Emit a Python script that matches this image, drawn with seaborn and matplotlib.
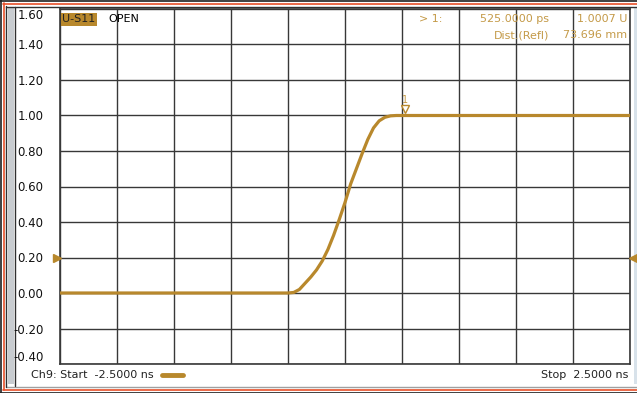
import numpy as np
import pandas as pd
import seaborn as sns
from matplotlib import pyplot as plt
from matplotlib.patches import Rectangle
from matplotlib.lines import Line2D
import matplotlib.transforms as mtransforms

# trace (time in ns, U)
time_ns = [-2.5, -0.5, -0.45, -0.4, -0.35, -0.3, -0.25, -0.2, -0.15, -0.1,
           -0.05, 0.0, 0.05, 0.1, 0.15, 0.2, 0.25, 0.3, 0.35, 0.4, 0.45, 2.5]
s11_u = [0.0, 0.0, 0.003, 0.02, 0.055, 0.09, 0.13, 0.18, 0.245, 0.325,
         0.415, 0.51, 0.615, 0.70, 0.785, 0.865, 0.93, 0.97, 0.99, 0.998, 1.0, 1.0]

y_ticks = [-0.4, -0.2, 0.0, 0.2, 0.4, 0.6, 0.8, 1.0, 1.2, 1.4, 1.6]
x_ticks = [-2.5, -2.0, -1.5, -1.0, -0.5, 0.0, 0.5, 1.0, 1.5, 2.0, 2.5]
ref_level = 0.2
marker_t = 0.525
marker_val = 1.0007

trace_col = '#B8882C'
text_col = '#C49A48'
grid_col = '#383838'

sns.set_style('white')
plt.rcParams['font.family'] = ['DejaVu Sans']

W, H = 637, 393
fig = plt.figure(figsize=(6.37, 3.93), dpi=100)
fig.patch.set_facecolor('white')
ax = fig.add_axes([60 / W, 1 - 364 / H, 570 / W, 355 / H])

df = pd.DataFrame({'t': time_ns, 'u': s11_u})
sns.lineplot(data=df, x='t', y='u', ax=ax, color=trace_col, linewidth=2.3,
             legend=False, zorder=3)

ax.set_xlim(-2.5, 2.5)
ax.set_ylim(-0.4, 1.6)
ax.set_xticks(x_ticks)
ax.set_yticks(y_ticks)
ax.set_xticklabels([])
ax.set_yticklabels(['%.2f' % v for v in y_ticks], fontsize=8.5, color='#111111')
ax.tick_params(axis='both', length=0)
ax.tick_params(axis='y', pad=12)
labs = ax.get_yticklabels()
labs[0].set_va('bottom')
labs[-1].set_va('top')
ax.grid(True, color=grid_col, linewidth=1)
for s in ax.spines.values():
    s.set_color(grid_col)
    s.set_linewidth(1.2)
ax.set_xlabel('')
ax.set_ylabel('')

# reference position arrows
tr = mtransforms.blended_transform_factory(ax.transAxes, ax.transData)
ax.plot([-0.005], [ref_level], marker='>', color=trace_col, markersize=6,
        transform=tr, clip_on=False, zorder=5)
ax.plot([1.005], [ref_level], marker='<', color=trace_col, markersize=6,
        transform=tr, clip_on=False, zorder=5)

# marker 1
ax.plot([marker_t], [marker_val + 0.035], marker='v', markersize=6,
        markerfacecolor='white', markeredgecolor=trace_col, zorder=4)
ax.text(marker_t, marker_val + 0.06, '1', color=text_col, fontsize=7,
        ha='center', va='bottom')

# header texts
ax.text(0.004, 0.985, 'U-S11', transform=ax.transAxes, fontsize=8,
        va='top', ha='left', color='#222222',
        bbox=dict(boxstyle='square,pad=0.15', fc=trace_col, ec='none'))
ax.text(0.085, 0.985, 'OPEN', transform=ax.transAxes, fontsize=8,
        va='top', ha='left', color='black')
ax.text(0.63, 0.985, '> 1:', transform=ax.transAxes, fontsize=8,
        va='top', ha='left', color=text_col)
ax.text(0.858, 0.985, '525.0000 ps', transform=ax.transAxes, fontsize=8,
        va='top', ha='right', color=text_col)
ax.text(0.995, 0.985, '1.0007 U', transform=ax.transAxes, fontsize=8,
        va='top', ha='right', color=text_col)
ax.text(0.858, 0.94, 'Dist.(Refl)', transform=ax.transAxes, fontsize=8,
        va='top', ha='right', color=text_col)
ax.text(0.995, 0.94, '73.696 mm', transform=ax.transAxes, fontsize=8,
        va='top', ha='right', color=text_col)

# footer texts
fig.text(31 / W, 1 - 375 / H, 'Ch9: Start  -2.5000 ns', fontsize=8,
         va='center', ha='left', color='#222222')
fig.add_artist(Line2D([162 / W, 183 / W], [1 - 375 / H, 1 - 375 / H],
                      color=trace_col, linewidth=3.5))
fig.text(628 / W, 1 - 375 / H, 'Stop  2.5000 ns', fontsize=8,
         va='center', ha='right', color='#222222')

# window frame
def hline(y, x0, x1, c, lw=1.0):
    fig.add_artist(Line2D([x0 / W, x1 / W], [1 - y / H, 1 - y / H],
                          color=c, linewidth=lw, zorder=0))

def vline(x, y0, y1, c, lw=1.0):
    fig.add_artist(Line2D([x / W, x / W], [1 - y0 / H, 1 - y1 / H],
                          color=c, linewidth=lw, zorder=0))

fig.add_artist(Rectangle((8 / W, 1 - 384 / H), 6 / W, 376 / H,
                         facecolor='#c8ccd0', edgecolor='none', zorder=0,
                         transform=fig.transFigure))
fig.add_artist(Rectangle((634 / W, 1 - 384 / H), 3 / W, 376 / H,
                         facecolor='#d8e2ea', edgecolor='none', zorder=0,
                         transform=fig.transFigure))
hline(0.5, 0, W, '#202020', 1.2)
hline(3.5, 3, W, '#e8502a', 1.2)
hline(6.5, 6, W, '#303030', 1.0)
hline(386.5, 6, W, '#a0a0a0', 1.0)
hline(389.5, 3, W, '#e8502a', 1.2)
hline(392.5, 0, W, '#202020', 1.2)
vline(0.5, 0, H, '#202020', 1.2)
vline(3.5, 3, 390, '#e8502a', 1.2)
vline(6.5, 6, 387, '#303030', 1.0)
vline(15, 7, 386, '#303030', 1.0)

fig.savefig('out.png', dpi=100)
